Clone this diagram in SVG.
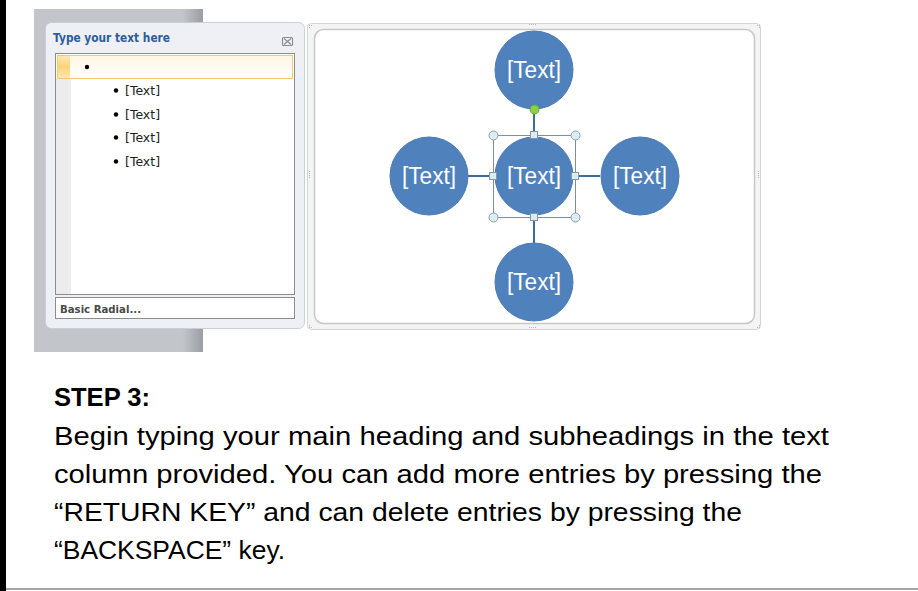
<svg xmlns="http://www.w3.org/2000/svg" width="918" height="591" viewBox="0 0 918 591">
<defs>
<style>
.node{fill:#4f81bd;stroke:#4a7ab4;stroke-width:1}
.ntext{font-family:"Liberation Sans",Arial,sans-serif;font-size:23px;fill:#ffffff;text-anchor:middle}
.conn{stroke:#3e6a9c;stroke-width:2;fill:none}
.hc{fill:#dcecf0;stroke:#8a9fae;stroke-width:1}
.hs{fill:#dcecf0;stroke:#7f97ab;stroke-width:1}
.item{font-family:"DejaVu Sans",Verdana,sans-serif;font-size:12.5px;fill:#222}
.body{font-family:"Liberation Sans",Arial,sans-serif;font-size:25.5px;fill:#000}
.dot{fill:#b8b8b8}
</style>
<linearGradient id="grayPanel" x1="0" y1="0" x2="1" y2="0">
<stop offset="0" stop-color="#c2c5c9"/>
<stop offset="0.88" stop-color="#c2c5c9"/>
<stop offset="1" stop-color="#9a9da1"/>
</linearGradient>
<linearGradient id="rowGrad" x1="0" y1="0" x2="0" y2="1">
<stop offset="0" stop-color="#fff6e0"/>
<stop offset="1" stop-color="#ffffff"/>
</linearGradient>
<linearGradient id="rowLeft" x1="0" y1="0" x2="0" y2="1">
<stop offset="0" stop-color="#fde7b0"/>
<stop offset="0.5" stop-color="#ffd27a"/>
<stop offset="1" stop-color="#fde7b0"/>
</linearGradient>
</defs>

<rect x="0" y="0" width="918" height="591" fill="#ffffff"/>
<rect x="0" y="0" width="6" height="591" fill="#000000"/>
<rect x="6" y="588" width="912" height="2" fill="#a6a6a6"/>

<g id="text-pane">
<rect x="34" y="9" width="169" height="343" fill="url(#grayPanel)"/>
<rect x="45.5" y="22.5" width="259" height="306" rx="6" fill="#eef0f5" stroke="#c7d0d8" stroke-width="1"/>
<text x="53" y="42" font-family="'DejaVu Sans',Tahoma,sans-serif" font-size="12" font-weight="bold" fill="#2c5c9c" textLength="117" lengthAdjust="spacingAndGlyphs">Type your text here</text>
<g id="close-icon" stroke="#8a8f96" stroke-width="1.2" fill="none">
<rect x="282.5" y="37.5" width="10" height="8" rx="1"/>
<path d="M284 38.5 L291 44.5 M291 38.5 L284 44.5"/>
</g>
<rect x="55.5" y="53.5" width="239" height="241" fill="#ffffff" stroke="#8c8c8c" stroke-width="1"/>
<rect x="56" y="79" width="15" height="215" fill="#ececec"/>
<rect x="57.5" y="55.5" width="235" height="23" fill="url(#rowGrad)" stroke="#f8c86e" stroke-width="1"/>
<rect x="58" y="56" width="12" height="22" fill="url(#rowLeft)"/>
<circle cx="87" cy="67" r="2.2" fill="#000"/>
<circle cx="116" cy="90.5" r="2.2" fill="#000"/>
<text class="item" x="125" y="95">[Text]</text>
<circle cx="116" cy="114.5" r="2.2" fill="#000"/>
<text class="item" x="125" y="119">[Text]</text>
<circle cx="116" cy="137.5" r="2.2" fill="#000"/>
<text class="item" x="125" y="142">[Text]</text>
<circle cx="116" cy="161.5" r="2.2" fill="#000"/>
<text class="item" x="125" y="166">[Text]</text>
<rect x="55.5" y="297.5" width="239" height="21" fill="#ffffff" stroke="#8c8c8c" stroke-width="1"/>
<text x="60" y="313" font-family="'DejaVu Sans',Tahoma,sans-serif" font-size="11" font-weight="bold" fill="#4a4a4a" textLength="81" lengthAdjust="spacingAndGlyphs">Basic Radial...</text>
</g>

<g id="canvas-frame">
<rect x="307.5" y="23.5" width="453" height="306" rx="4" fill="#f4f4f4" stroke="#d4d4d4" stroke-width="1"/>
<rect x="314.5" y="29.5" width="440" height="294" rx="9" fill="#ffffff" stroke="#c8c8c8" stroke-width="1.5"/>
<g class="dot">
<rect x="529" y="24" width="1" height="1"/><rect x="531" y="24" width="1" height="1"/><rect x="533" y="24" width="1" height="1"/><rect x="535" y="24" width="1" height="1"/>
<rect x="529" y="327" width="1" height="1"/><rect x="531" y="327" width="1" height="1"/><rect x="533" y="327" width="1" height="1"/><rect x="535" y="327" width="1" height="1"/>
<rect x="309" y="171" width="1" height="1"/><rect x="309" y="173" width="1" height="1"/><rect x="309" y="175" width="1" height="1"/><rect x="309" y="177" width="1" height="1"/>
<rect x="758" y="171" width="1" height="1"/><rect x="758" y="173" width="1" height="1"/><rect x="758" y="175" width="1" height="1"/><rect x="758" y="177" width="1" height="1"/>
<rect x="309" y="25" width="1" height="1"/><rect x="311" y="25" width="1" height="1"/><rect x="309" y="27" width="1" height="1"/>
<rect x="757" y="25" width="1" height="1"/><rect x="759" y="25" width="1" height="1"/><rect x="759" y="27" width="1" height="1"/>
<rect x="309" y="325" width="1" height="1"/><rect x="309" y="327" width="1" height="1"/><rect x="311" y="327" width="1" height="1"/>
<rect x="759" y="325" width="1" height="1"/><rect x="757" y="327" width="1" height="1"/><rect x="759" y="327" width="1" height="1"/>
</g>
</g>

<g id="connectors">
<line class="conn" x1="534" y1="109" x2="534" y2="137"/>
<line class="conn" x1="468" y1="176" x2="495" y2="176"/>
<line class="conn" x1="573" y1="176" x2="600" y2="176"/>
<line class="conn" x1="534" y1="215" x2="534" y2="243"/>
</g>

<g id="node-top"><circle class="node" cx="534" cy="70" r="39"/><text class="ntext" x="534" y="78" textLength="54" lengthAdjust="spacingAndGlyphs">[Text]</text></g>
<g id="node-left"><circle class="node" cx="429" cy="176" r="39"/><text class="ntext" x="429" y="184" textLength="54" lengthAdjust="spacingAndGlyphs">[Text]</text></g>
<g id="node-center"><circle class="node" cx="534" cy="176" r="39"/><text class="ntext" x="534" y="184" textLength="54" lengthAdjust="spacingAndGlyphs">[Text]</text></g>
<g id="node-right"><circle class="node" cx="640" cy="176" r="39"/><text class="ntext" x="640" y="184" textLength="54" lengthAdjust="spacingAndGlyphs">[Text]</text></g>
<g id="node-bottom"><circle class="node" cx="534" cy="282" r="39"/><text class="ntext" x="534" y="290" textLength="54" lengthAdjust="spacingAndGlyphs">[Text]</text></g>

<g id="selection">
<rect x="493.5" y="135.5" width="82" height="82" fill="none" stroke="#7b8fa3" stroke-width="1"/>
<circle class="hc" cx="493.5" cy="135.5" r="4.5"/>
<circle class="hc" cx="575.5" cy="135.5" r="4.5"/>
<circle class="hc" cx="493.5" cy="217.5" r="4.5"/>
<circle class="hc" cx="575.5" cy="217.5" r="4.5"/>
<rect class="hs" x="530.5" y="131.5" width="7" height="7"/>
<rect class="hs" x="530.5" y="213.5" width="7" height="7"/>
<rect class="hs" x="489.5" y="172.5" width="7" height="7"/>
<rect class="hs" x="571.5" y="172.5" width="7" height="7"/>
<circle cx="534.5" cy="109.5" r="4.5" fill="#8ed04a" stroke="#6aa83a" stroke-width="1"/>
</g>

<g id="instructions">
<text class="body" x="54" y="406" font-weight="bold" textLength="96" lengthAdjust="spacingAndGlyphs">STEP 3:</text>
<text class="body" x="54" y="445" textLength="775" lengthAdjust="spacingAndGlyphs">Begin typing your main heading and subheadings in the text</text>
<text class="body" x="54" y="483" textLength="768" lengthAdjust="spacingAndGlyphs">column provided. You can add more entries by pressing the</text>
<text class="body" x="54" y="521" textLength="688" lengthAdjust="spacingAndGlyphs">“RETURN KEY” and can delete entries by pressing the</text>
<text class="body" x="54" y="559" textLength="231" lengthAdjust="spacingAndGlyphs">“BACKSPACE” key.</text>
</g>
</svg>
